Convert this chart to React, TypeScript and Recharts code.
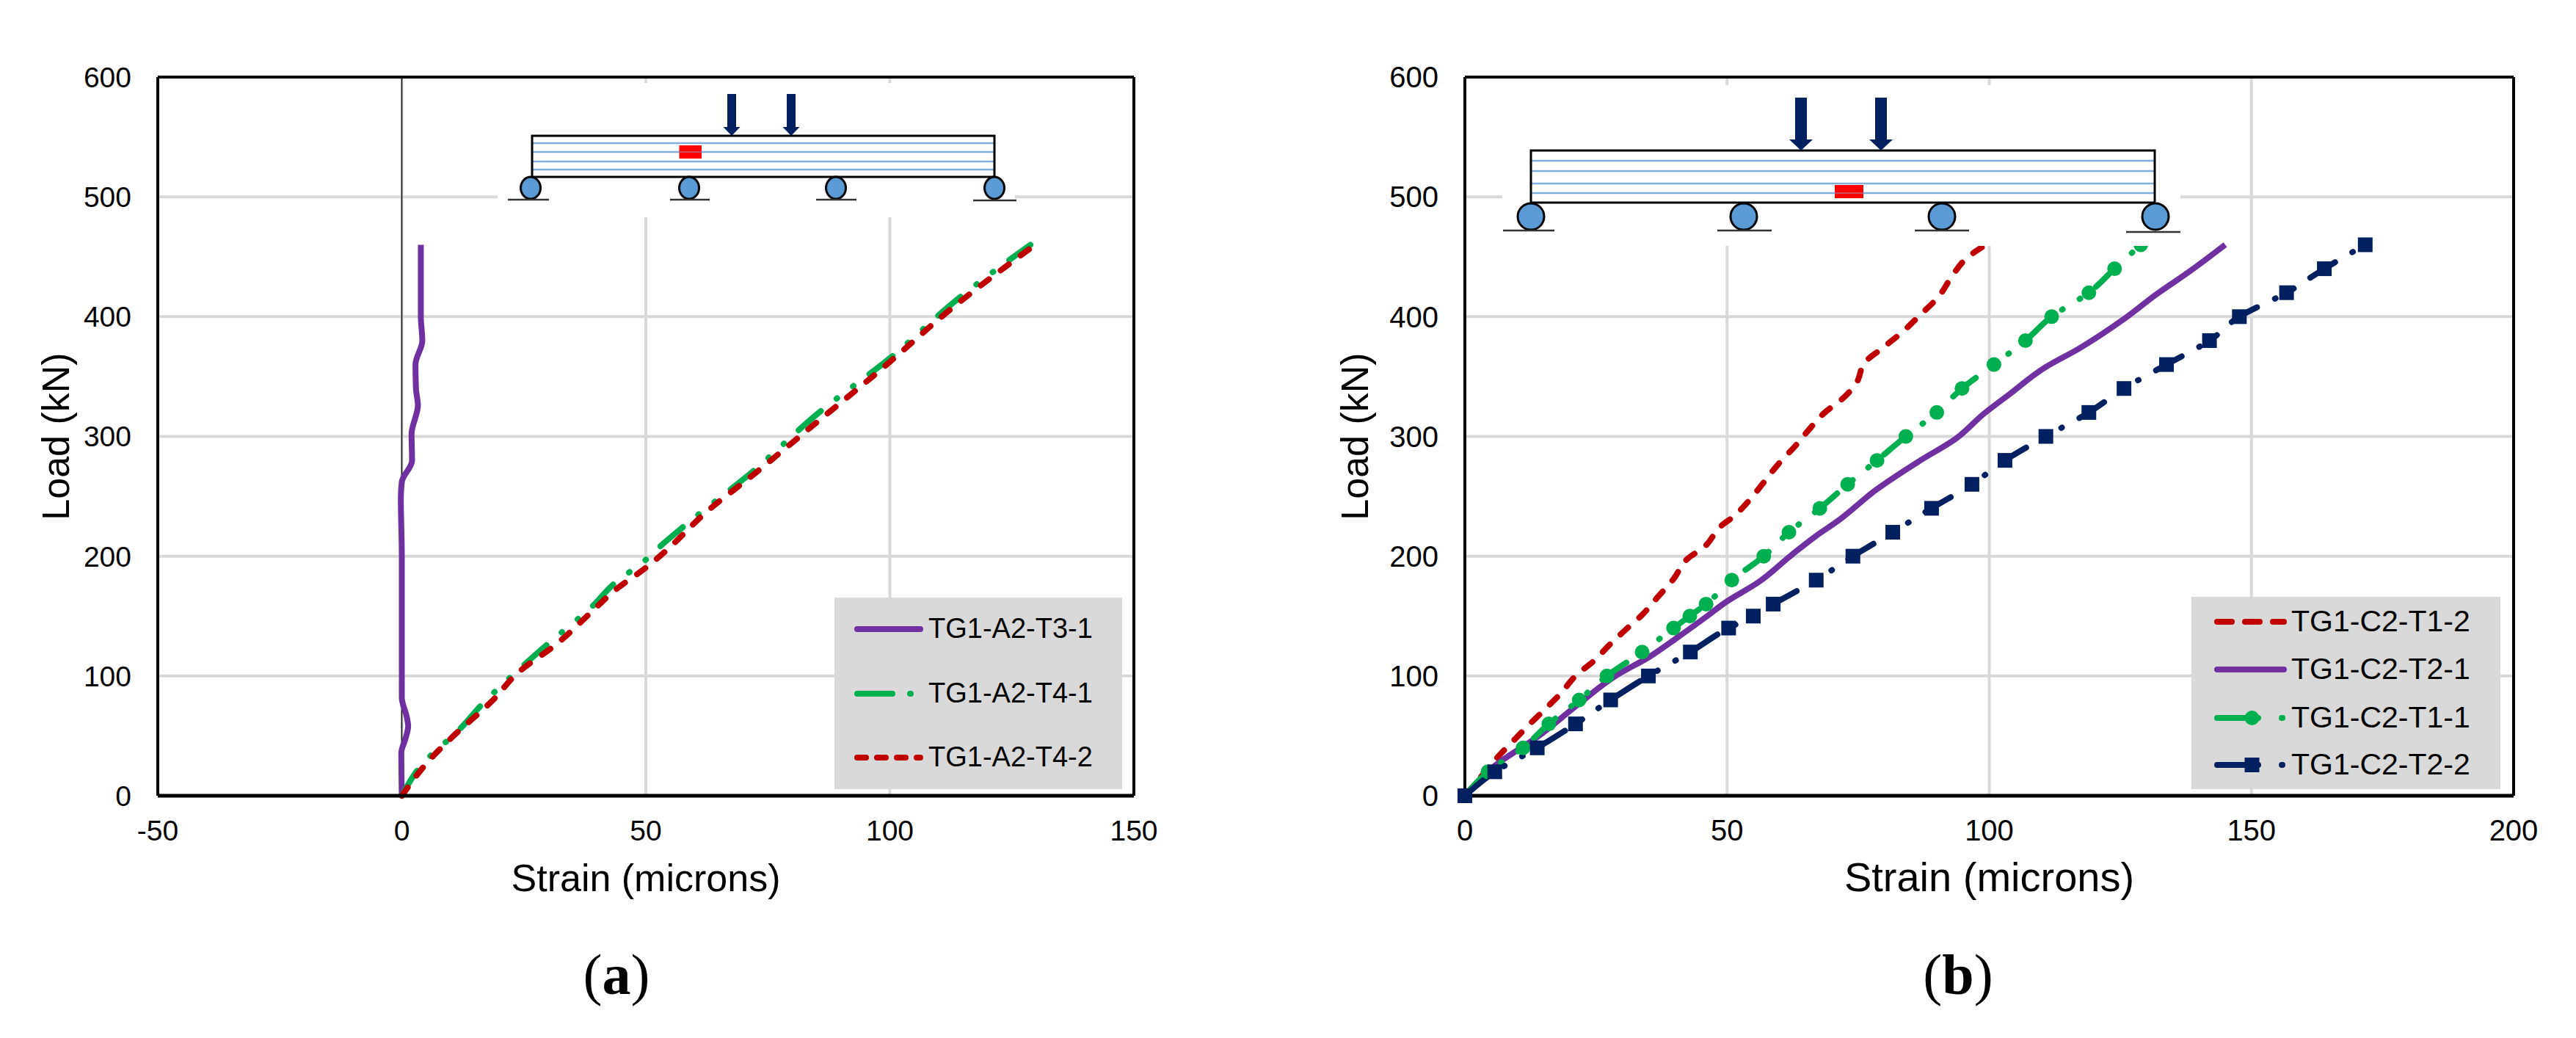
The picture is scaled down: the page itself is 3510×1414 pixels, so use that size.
import React from "react";
import { LineChart, Line, XAxis, YAxis, CartesianGrid, ReferenceLine, Legend } from "recharts";

// Panel (a)
const a31Strain = [0, -0.1, 0.7, 1.3, 1, 0, 0, 0, -0.2, 0, 2.1, 2, 3.3, 2.9, 2.8, 4.2, 3.9, 3.9];
const a31Load = [0, 36, 47, 58, 66, 82, 100, 200, 248, 262, 280, 302, 326, 340, 360, 380, 400, 460];
const a41Strain = [0, 3.7, 12.2, 16.6, 25, 30, 39, 43.5, 49.7, 52.6, 57.8, 71.7, 85.5, 100.2, 114, 128.8];
const a41Load = [0, 24, 57, 77, 109, 127, 158, 177, 196, 207, 225, 270, 320, 366, 415, 460];
const a42Strain = [0, 5.7, 10.6, 18.7, 23.6, 31.8, 39, 43.2, 50.5, 53.7, 62.7, 71.7, 83.9, 98.5, 112.4, 129.1];
const a42Load = [0, 30, 50, 80, 102, 127, 154, 170, 192, 203, 238, 267, 308, 357, 406, 458];

// Panel (b)
const c12Strain = [0, 3.3, 6.4, 9.5, 12.4, 15, 18.4, 21.1, 24.7, 27.8, 30.5, 33.8, 36.8, 39.8, 42.5, 45.7, 48.8, 51.2, 54.3, 56.7, 59.8, 63, 65.3, 68.4, 72.4, 74.7, 76.3, 79.4, 83.4, 86.5, 90.4, 92.8, 96, 99];
const c12Load = [0, 17, 33, 47, 60, 71, 86, 100, 113, 127, 138, 151, 166, 181, 198, 208, 225, 233, 247, 260, 277, 292, 304, 319, 333, 345, 362, 373, 387, 400, 417, 433, 450, 459];
const c21Strain = [0, 5.7, 13.8, 21.8, 29.1, 35.2, 40.5, 45.9, 49.9, 55.9, 62.3, 67, 71, 78.6, 86.5, 93.6, 99, 103.8, 110.8, 117, 125.7, 132, 138.3, 145];
const c21Load = [0, 25, 49, 77, 101, 116, 132, 149, 162, 178, 201, 217, 229, 256, 279, 298, 319, 335, 358, 373, 398, 419, 438, 460];
const c11Strain = [0, 4.4, 11.1, 16, 21.8, 27.1, 33.8, 39.8, 42.9, 46, 50.9, 57, 61.8, 67.7, 73, 78.6, 84.1, 90, 94.8, 100.9, 106.9, 111.9, 119, 123.9, 128.9];
const c11Load = [0, 20, 40, 60, 80, 100, 120, 140, 150, 160, 180, 200, 220, 240, 260, 280, 300, 320, 340, 360, 380, 400, 420, 440, 460];
const c22Strain = [0, 5.7, 13.8, 21.1, 27.8, 35, 43, 50.3, 55, 58.8, 67, 74, 81.6, 89, 96.7, 103, 110.8, 119, 125.7, 133.8, 142, 147.7, 156.7, 163.9, 171.7];
const c22Load = [0, 20, 40, 60, 80, 100, 120, 140, 150, 160, 180, 200, 220, 240, 260, 280, 300, 320, 340, 360, 380, 400, 420, 440, 460];

const yTicks = [0, 100, 200, 300, 400, 500, 600];
const xTicksA = [-50, 0, 50, 100, 150];
const xTicksB = [0, 50, 100, 150, 200];

const toRows = (xs: number[], ys: number[]) => xs.map((strain, i) => ({ strain, load: ys[i] }));

const PURPLE = "#7030a0";
const GREEN = "#00b050";
const RED = "#c00000";
const NAVY = "#002060";
const GRID = "#d9d9d9";
const FONT = "'Liberation Sans', Arial, sans-serif";
const LDD = "40 27 1 27 1 27";
const SHORT = "14 20";

const circleDot = (p: any) => <ellipse key={p.index} cx={p.cx} cy={p.cy} rx={10} ry={10} fill={GREEN} />;
const squareDot = (p: any) => <rect key={p.index} x={p.cx - 10} y={p.cy - 10} width={20} height={20} fill={NAVY} />;

type LegendRow = { name: string; color: string; dash?: string; marker?: "circle" | "square" };
const legendA: LegendRow[] = [
  { name: "TG1-A2-T3-1", color: PURPLE },
  { name: "TG1-A2-T4-1", color: GREEN, dash: "48 24 1 40" },
  { name: "TG1-A2-T4-2", color: RED, dash: "12 15" },
];
const legendB: LegendRow[] = [
  { name: "TG1-C2-T1-2", color: RED, dash: "20 18" },
  { name: "TG1-C2-T2-1", color: PURPLE },
  { name: "TG1-C2-T1-1", color: GREEN, dash: "56 32 1 40", marker: "circle" },
  { name: "TG1-C2-T2-2", color: NAVY, dash: "56 32 1 40", marker: "square" },
];

function LegendBox({ rows, sampleLeft, sampleWidth, textLeft, font, centers }: any) {
  return (
    <div style={{ position: "absolute", inset: 0, background: GRID }}>
      {rows.map((r: LegendRow, i: number) => (
        <React.Fragment key={r.name}>
          <svg style={{ position: "absolute", left: sampleLeft, top: centers[i] - 15, overflow: "visible" }} width={sampleWidth} height={30}>
            <line x1={4} x2={sampleWidth - 4} y1={15} y2={15} stroke={r.color} strokeWidth={8} strokeLinecap="round" strokeDasharray={r.dash} />
            {r.marker === "circle" && <circle cx={sampleWidth / 2 + 2} cy={15} r={10} fill={r.color} />}
            {r.marker === "square" && <rect x={sampleWidth / 2 - 8} y={5} width={20} height={20} fill={r.color} />}
          </svg>
          <div style={{ position: "absolute", left: textLeft, top: centers[i] - font * 0.6, fontFamily: FONT, fontSize: font, lineHeight: `${font * 1.2}px`, color: "#000", whiteSpace: "nowrap" }}>
            {r.name}
          </div>
        </React.Fragment>
      ))}
    </div>
  );
}

function Panel({ left, width, plotLeft, plotRight, xDomain, xTicks, labelFont, children, legend, zero, tickFont, loadOffset }: any) {
  const yw = 150;
  return (
    <div style={{ position: "absolute", left, top: 0 }}>
      <LineChart
        width={width}
        height={1414}
        margin={{ left: plotLeft - yw, right: width - plotRight, top: 105, bottom: 1414 - 1084 - 170 }}
      >
        <CartesianGrid stroke={GRID} strokeWidth={4} />
        <XAxis
          type="number"
          dataKey="strain"
          domain={xDomain}
          ticks={xTicks}
          height={170}
          interval={0}
          tickSize={0}
          tickMargin={33}
          tick={{ fill: "#000", fontSize: tickFont, fontFamily: FONT }}
          axisLine={{ stroke: "#000", strokeWidth: 5 }}
          label={{ value: "Strain (microns)", position: "insideBottom", offset: 40, fill: "#000", fontSize: labelFont, fontFamily: FONT }}
        />
        <YAxis
          type="number"
          domain={[0, 600]}
          ticks={yTicks}
          width={yw}
          interval={0}
          tickSize={0}
          tickMargin={36}
          tick={{ fill: "#000", fontSize: tickFont, fontFamily: FONT }}
          axisLine={{ stroke: "#000", strokeWidth: 4 }}
          label={{ value: "Load (kN)", angle: -90, position: "insideLeft", offset: loadOffset, fill: "#000", fontSize: 52, fontFamily: FONT, style: { textAnchor: "middle" } }}
        />
        <ReferenceLine y={600} stroke="#000" strokeWidth={4} />
        <ReferenceLine x={xDomain[1]} stroke="#000" strokeWidth={4} />
        {zero && <ReferenceLine x={0} stroke="#000" strokeWidth={1.5} />}
        {children}
        {legend}
      </LineChart>
    </div>
  );
}

function Diagram() {
  const beam = (x1: number, x2: number, y1: number, y2: number, blue: number[], red: number[], arrows: number[], shaftTop: number, shaftEnd: number, shaftW: number, headW: number, rollers: number[], cy: number, rx: number, ry: number, grounds: number[][], blueW: number) => (
    <g>
      {blue.map((y) => <line key={y} x1={x1} x2={x2} y1={y} y2={y} stroke="#7fb0de" strokeWidth={blueW} />)}
      <rect x={red[0]} y={red[1]} width={red[2]} height={red[3]} fill="#ff0000" />
      <line x1={red[0]} x2={red[0] + red[2]} y1={blue[red[4]]} y2={blue[red[4]]} stroke="#c8505a" strokeWidth={2} />
      <rect x={x1} y={y1} width={x2 - x1} height={y2 - y1} fill="none" stroke="#000" strokeWidth={3} />
      {arrows.map((a) => (
        <g key={a} fill={NAVY}>
          <rect x={a - shaftW / 2} y={shaftTop} width={shaftW} height={shaftEnd - shaftTop} />
          <polygon points={`${a - headW / 2},${shaftEnd} ${a + headW / 2},${shaftEnd} ${a},${y1}`} />
        </g>
      ))}
      {rollers.map((r) => <ellipse key={r} cx={r} cy={cy} rx={rx} ry={ry} fill="#5b9bd5" stroke="#000" strokeWidth={3} />)}
      {grounds.map((g) => <line key={g[0]} x1={g[0]} x2={g[1]} y1={g[2]} y2={g[2]} stroke="#333" strokeWidth={2.5} />)}
    </g>
  );
  return (
    <svg width={3510} height={1414} style={{ position: "absolute", left: 0, top: 0, pointerEvents: "none" }}>
      <rect x={678} y={113} width={705} height={183} fill="#fff" />
      <rect x={2047} y={116} width={924} height={219} fill="#fff" />
      {beam(725, 1355, 185, 241, [195, 207, 220, 231], [925.5, 198, 30.5, 18, 1], [997, 1078], 128, 173, 12, 23, [723, 939, 1139, 1355], 256, 13.5, 15, [[692, 748, 272], [913, 967, 272], [1112, 1167, 272], [1326, 1385, 273]], 2.5)}
      {beam(2086, 2936, 205, 276, [219, 233, 250, 263], [2500, 252, 39, 18, 3], [2454, 2563], 133, 190, 16, 32, [2086, 2376, 2646, 2937], 295, 18, 18, [[2048, 2118, 314], [2340, 2414, 314], [2609, 2683, 314], [2897, 2971, 316]], 2.5)}
      <text x={840} y={1354} textAnchor="middle" fontFamily="'Liberation Serif', serif" fontSize={78} fill="#000">(<tspan fontWeight="bold">a</tspan>)</text>
      <text x={2668} y={1354} textAnchor="middle" fontFamily="'Liberation Serif', serif" fontSize={78} fill="#000">(<tspan fontWeight="bold">b</tspan>)</text>
    </svg>
  );
}

export default function App() {
  return (
    <div style={{ position: "absolute", left: 0, top: 0, width: 3510, height: 1414, background: "#fff", overflow: "hidden" }}>
      <Panel
        left={0}
        width={1750}
        plotLeft={215}
        plotRight={1545}
        xDomain={[-50, 150]}
        xTicks={xTicksA}
        labelFont={52}
        tickFont={39}
        loadOffset={11}
        zero
        legend={
          <Legend
            layout="horizontal"
            verticalAlign="middle"
            align="center"
            wrapperStyle={{ position: "absolute", left: 1137, top: 814, width: 392, height: 261 }}
            content={() => <LegendBox rows={legendA} sampleLeft={27} sampleWidth={94} textLeft={128} font={38} centers={[43, 131, 218]} />}
          />
        }
      >
        <Line type="monotoneY" data={toRows(a31Strain, a31Load)} dataKey="load" name="TG1-A2-T3-1" stroke={PURPLE} strokeWidth={8} dot={false} isAnimationActive={false} />
        <Line type="monotoneY" data={toRows(a41Strain, a41Load)} dataKey="load" name="TG1-A2-T4-1" stroke={GREEN} strokeWidth={8} strokeLinecap="round" strokeDasharray={LDD} dot={false} isAnimationActive={false} />
        <Line type="monotoneY" data={toRows(a42Strain, a42Load)} dataKey="load" name="TG1-A2-T4-2" stroke={RED} strokeWidth={8} strokeLinecap="round" strokeDasharray={SHORT} dot={false} isAnimationActive={false} />
      </Panel>
      <Panel
        left={1750}
        width={1760}
        plotLeft={246}
        plotRight={1675}
        xDomain={[0, 200]}
        xTicks={xTicksB}
        labelFont={56}
        tickFont={40}
        loadOffset={0}
        legend={
          <Legend
            layout="horizontal"
            verticalAlign="middle"
            align="center"
            wrapperStyle={{ position: "absolute", left: 1236, top: 813, width: 421, height: 262 }}
            content={() => <LegendBox rows={legendB} sampleLeft={31} sampleWidth={99} textLeft={136} font={41} centers={[34, 99, 165, 229]} />}
          />
        }
      >
        <Line type="monotoneY" data={toRows(c12Strain, c12Load)} dataKey="load" name="TG1-C2-T1-2" stroke={RED} strokeWidth={8} strokeLinecap="round" strokeDasharray={SHORT} dot={false} isAnimationActive={false} />
        <Line type="monotoneY" data={toRows(c21Strain, c21Load)} dataKey="load" name="TG1-C2-T2-1" stroke={PURPLE} strokeWidth={8} dot={false} isAnimationActive={false} />
        <Line type="monotoneY" data={toRows(c11Strain, c11Load)} dataKey="load" name="TG1-C2-T1-1" stroke={GREEN} strokeWidth={8} strokeLinecap="round" strokeDasharray={LDD} dot={circleDot} isAnimationActive={false} />
        <Line type="monotoneY" data={toRows(c22Strain, c22Load)} dataKey="load" name="TG1-C2-T2-2" stroke={NAVY} strokeWidth={8} strokeLinecap="round" strokeDasharray={LDD} dot={squareDot} isAnimationActive={false} />
      </Panel>
      <Diagram />
    </div>
  );
}
